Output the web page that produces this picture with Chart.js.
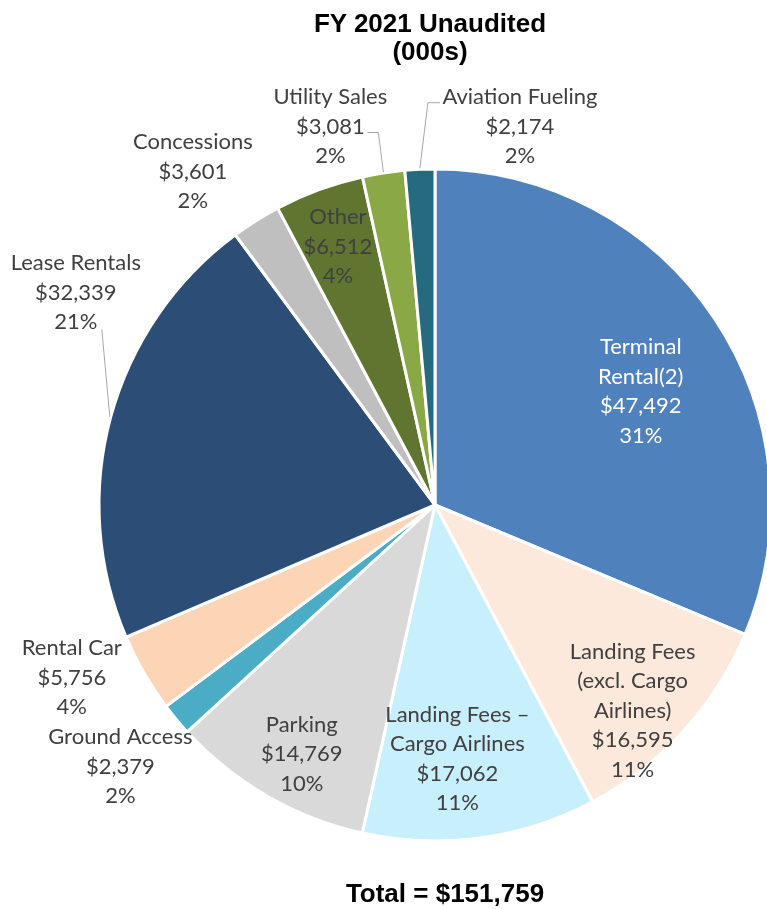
<!DOCTYPE html>
<html>
<head>
<meta charset="utf-8">
<title>FY 2021 Unaudited</title>
<script src="https://cdn.jsdelivr.net/npm/chart.js@4.4.0/dist/chart.umd.min.js"></script>
<style>
  body { margin: 0; background: #fff; overflow: hidden; }
  #wrap { position: relative; width: 767px; height: 909px; overflow: hidden; }
  #revenueChart { position: absolute; left: 0; top: 0; }
  .heading {
    position: absolute;
    font-family: "Liberation Sans", Arial, sans-serif;
    font-weight: bold;
    font-size: 26px;
    line-height: 28px;
    color: #000;
    text-align: center;
    white-space: nowrap;
  }
  #title { left: 230px; width: 400px; top: 9px; }
  #total { left: 245px; width: 400px; top: 879px; }
</style>
</head>
<body>
<div id="wrap">
  <canvas id="revenueChart" width="800" height="909"></canvas>
  <div id="title" class="heading">FY 2021 Unaudited<br>(000s)</div>
  <div id="total" class="heading">Total = $151,759</div>
</div>

<script>
// Revenue by source, clockwise from 12 o'clock
const categories = [
  ["Terminal", "Rental(2)"],
  ["Landing Fees", "(excl. Cargo", "Airlines)"],
  ["Landing Fees \u2013", "Cargo Airlines"],
  ["Parking"],
  ["Ground Access"],
  ["Rental Car"],
  ["Lease Rentals"],
  ["Concessions"],
  ["Other"],
  ["Utility Sales"],
  ["Aviation Fueling"]
];
const values = [47492, 16595, 17062, 14769, 2379, 5756, 32339, 3601, 6512, 3081, 2174];
const pctLabels = ["31%", "11%", "11%", "10%", "2%", "4%", "21%", "2%", "4%", "2%", "2%"];

const sliceColors = [
  "#4F81BD", "#FCE9DB", "#C8EFFC", "#D9D9D9", "#4BACC6", "#FBD5B5",
  "#2C4D75", "#BFBFBF", "#5F7530", "#8AA845", "#256A7E"
];

// where each label sits: f = fraction of radius along the slice middle, then a nudge
const placement = [
  { f: 0.70, dx: 10, dy: 17, color: "#FFFFFF" },
  { f: 0.82, dx: -6, dy: 20 },
  { f: 0.76, dx: -12, dy: 1 },
  { f: 0.84, dx: 8, dy: 5 },
  { f: 1.22, dx: 1, dy: 0 },
  { f: 1.20, dx: -14, dy: -29 },
  { f: 1.12, dx: 4, dy: -114, leader: [[26, 37]] },
  { f: 1.18, dx: -31, dy: 2 },
  { f: 0.82, dx: -2, dy: 0 },
  { f: 1.14, dx: -46, dy: 0, leader: [[37, 6], [48, 6]] },
  { f: 1.13, dx: 102, dy: 1, leader: [[-80, -24], [-92, -24]] }
];

const LINE_H = 29.5;

const sliceLabels = {
  id: "sliceLabels",
  afterDatasetsDraw(chart) {
    const ctx = chart.ctx;
    const meta = chart.getDatasetMeta(0);
    ctx.save();
    ctx.font = "22px Lato";
    ctx.textAlign = "center";
    ctx.textBaseline = "middle";

    meta.data.forEach((arc, i) => {
      const p = placement[i];
      const mid = (arc.startAngle + arc.endAngle) / 2;
      const r = arc.outerRadius * p.f;
      const x = arc.x + Math.cos(mid) * r + p.dx;
      const y = arc.y + Math.sin(mid) * r + p.dy;

      if (p.leader) {
        ctx.strokeStyle = "#A6A6A6";
        ctx.lineWidth = 1;
        ctx.beginPath();
        p.leader.forEach((pt, k) => {
          if (k === 0) ctx.moveTo(x + pt[0], y + pt[1]);
          else ctx.lineTo(x + pt[0], y + pt[1]);
        });
        const edge = arc.outerRadius + 1;
        ctx.lineTo(arc.x + Math.cos(mid) * edge, arc.y + Math.sin(mid) * edge);
        ctx.stroke();
      }

      const lines = [...categories[i], "$" + values[i].toLocaleString("en-US"), pctLabels[i]];
      ctx.fillStyle = p.color || "#404040";
      const top = y - (lines.length - 1) / 2 * LINE_H;
      lines.forEach((txt, k) => ctx.fillText(txt, x, top + k * LINE_H));
    });
    ctx.restore();
  }
};

document.addEventListener("DOMContentLoaded", () => {
  const ctx = document.getElementById("revenueChart");
  new Chart(ctx, {
    type: "pie",
    data: {
      labels: categories,
      datasets: [{
        data: values,
        backgroundColor: sliceColors,
        borderColor: "#FFFFFF",
        borderWidth: 3,
        radius: 336
      }]
    },
    options: {
      responsive: false,
      animation: false,
      layout: { padding: { left: 100, right: 30, top: 170, bottom: 69 } },
      plugins: {
        legend: { display: false },
        tooltip: { enabled: false }
      }
    },
    plugins: [sliceLabels]
  });
});
</script>
</body>
</html>
